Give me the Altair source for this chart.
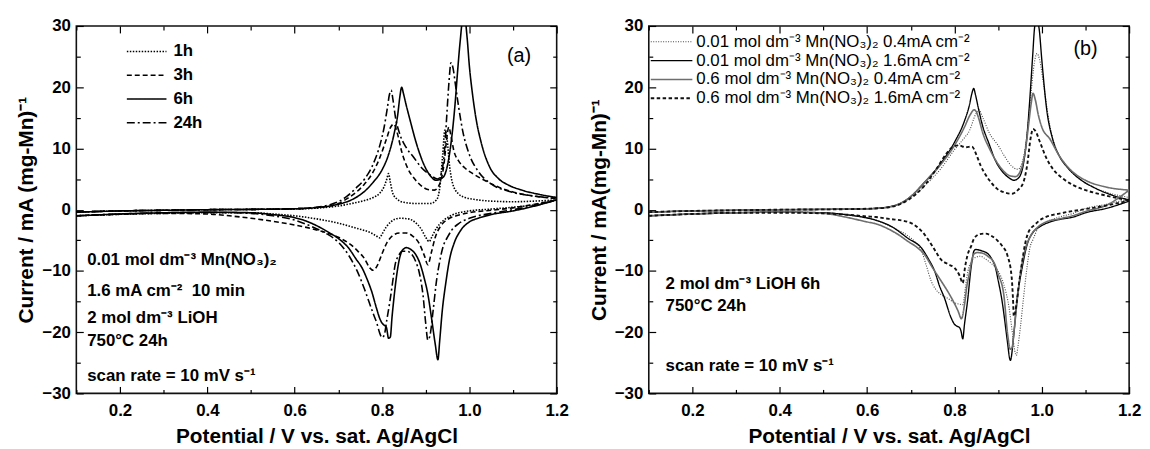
import altair as alt
import pandas as pd

FONT = "Liberation Sans"

# ---------------- axes ----------------
X_DOMAIN = [0.1, 1.2]
Y_DOMAIN = [-30, 30]
X_MAJOR = [0.2, 0.4, 0.6, 0.8, 1.0, 1.2]
X_MINOR = [0.1, 0.3, 0.5, 0.7, 0.9, 1.1]
Y_MAJOR = [-30, -20, -10, 0, 10, 20, 30]
Y_MINOR = [-25, -15, -5, 5, 15, 25]
X_TITLE = "Potential / V vs. sat. Ag/AgCl"
Y_TITLE_A = "Current / mA (mg-Mn)⁻¹"
Y_TITLE_B = "Current / mA(mg-Mn)⁻¹"

# ---------------- panel (a) ----------------
SERIES_A = ["1h", "3h", "6h", "24h"]

# 1h  (anodic sweep 0.1 -> 1.2, cathodic sweep 1.2 -> 0.1)
A1_AV = [0.10, 0.20, 0.30, 0.40, 0.50, 0.60, 0.65, 0.70, 0.73, 0.76, 0.78, 0.795, 0.805, 0.811, 0.815, 0.819,
         0.825, 0.835, 0.85, 0.88, 0.91, 0.925, 0.933, 0.939, 0.944, 0.949, 0.955, 0.962, 0.975, 0.99, 1.01,
         1.05, 1.10, 1.15, 1.20]
A1_AI = [-0.4, -0.2, -0.1, 0.0, 0.05, 0.1, 0.25, 0.6, 1.0, 1.5, 2.0, 2.7, 3.8, 5.0, 5.9, 4.5,
         2.6, 1.7, 1.2, 1.0, 1.0, 1.6, 4.0, 9.0, 13.0, 11.5, 7.0, 4.2, 2.6, 2.0, 1.7,
         1.4, 1.3, 1.4, 1.6]
A1_CV = [1.20, 1.15, 1.10, 1.05, 1.00, 0.96, 0.94, 0.925, 0.915, 0.908, 0.90, 0.89, 0.875, 0.86, 0.84, 0.82,
         0.81, 0.80, 0.795, 0.787, 0.775, 0.76, 0.74, 0.70, 0.65, 0.60, 0.55, 0.50, 0.40, 0.30, 0.20, 0.10]
A1_CI = [1.6, 0.8, 0.4, 0.1, -0.2, -0.9, -1.8, -3.0, -4.3, -5.2, -4.5, -3.2, -2.0, -1.5, -1.4, -2.0,
         -2.8, -4.0, -4.6, -4.3, -3.8, -3.4, -3.0, -2.2, -1.5, -1.0, -0.7, -0.5, -0.5, -0.6, -0.75, -1.0]

# 3h
A3_AV = [0.10, 0.20, 0.30, 0.40, 0.50, 0.60, 0.65, 0.68, 0.70, 0.72, 0.74, 0.76, 0.78, 0.795, 0.81, 0.82,
         0.827, 0.835, 0.845, 0.86, 0.875, 0.89, 0.905, 0.92, 0.932, 0.942, 0.948, 0.953, 0.958, 0.965,
         0.975, 0.99, 1.01, 1.04, 1.07, 1.10, 1.15, 1.20]
A3_AI = [-0.4, -0.2, -0.1, 0.0, 0.05, 0.15, 0.35, 0.6, 1.0, 1.8, 2.8, 4.2, 6.2, 8.5, 11.5, 13.5,
         14.0, 12.5, 9.5, 6.6, 5.0, 3.9, 3.3, 3.2, 4.2, 7.5, 11.5, 13.5, 12.0, 9.5,
         8.0, 6.8, 5.8, 4.6, 3.6, 2.9, 2.2, 1.8]
A3_CV = [1.20, 1.15, 1.10, 1.05, 1.00, 0.97, 0.95, 0.935, 0.922, 0.913, 0.905, 0.897, 0.885, 0.87, 0.855,
         0.84, 0.825, 0.812, 0.80, 0.79, 0.78, 0.772, 0.76, 0.745, 0.73, 0.70, 0.65, 0.60, 0.55, 0.50,
         0.45, 0.40, 0.30, 0.20, 0.10]
A3_CI = [1.6, 0.9, 0.3, -0.1, -0.5, -1.0, -1.6, -2.6, -4.5, -7.0, -9.0, -7.5, -5.5, -4.3, -3.8,
         -3.8, -4.2, -5.3, -7.2, -9.0, -9.9, -9.5, -8.0, -6.8, -5.8, -4.5, -3.3, -2.5, -1.9, -1.4,
         -1.0, -0.7, -0.6, -0.75, -1.0]

# 6h
A6_AV = [0.10, 0.20, 0.30, 0.40, 0.50, 0.60, 0.65, 0.68, 0.70, 0.73, 0.76, 0.78, 0.80, 0.815, 0.828, 0.836,
         0.841, 0.845, 0.849, 0.855, 0.864, 0.878, 0.894, 0.91, 0.924, 0.94, 0.952, 0.96, 0.967, 0.973,
         0.979, 0.985, 0.99, 0.995, 1.00, 1.007, 1.015, 1.027, 1.045, 1.068, 1.09, 1.12, 1.16, 1.20]
A6_AI = [-0.4, -0.2, -0.1, 0.0, 0.05, 0.15, 0.35, 0.6, 0.9, 1.6, 3.0, 4.5, 6.5, 9.0, 12.5, 15.5,
         18.5, 20.0, 19.0, 17.2, 14.7, 11.0, 7.7, 5.6, 4.8, 5.3, 8.0, 12.0, 17.0, 22.5,
         27.5, 31.0, 31.0, 28.0, 23.5, 19.0, 15.0, 11.0, 7.2, 5.0, 4.0, 3.2, 2.5, 2.0]
A6_CV = [1.20, 1.15, 1.10, 1.05, 1.02, 1.00, 0.98, 0.965, 0.955, 0.946, 0.938, 0.932, 0.928, 0.922, 0.913,
         0.905, 0.896, 0.887, 0.877, 0.866, 0.856, 0.847, 0.84, 0.834, 0.828, 0.823, 0.819, 0.815, 0.81,
         0.804, 0.80, 0.795, 0.787, 0.777, 0.765, 0.755, 0.74, 0.725, 0.70, 0.68, 0.65, 0.62, 0.60, 0.55,
         0.50, 0.40, 0.30, 0.20, 0.10]
A6_CI = [1.6, 0.6, -0.2, -0.8, -1.4, -2.0, -3.4, -5.5, -8.0, -12.0, -16.5, -21.5, -24.5, -22.0, -17.5,
         -13.8, -11.0, -8.8, -7.3, -6.5, -6.2, -6.6, -8.0, -10.5, -14.0, -17.5, -20.8, -21.0, -19.2,
         -18.8, -18.5, -17.8, -16.0, -13.5, -11.2, -9.6, -8.0, -6.4, -4.7, -3.8, -2.6, -1.7, -1.3, -0.8,
         -0.5, -0.4, -0.5, -0.7, -1.0]

# 24h
A24_AV = [0.10, 0.20, 0.30, 0.40, 0.50, 0.60, 0.65, 0.68, 0.70, 0.72, 0.74, 0.76, 0.78, 0.795, 0.805, 0.812,
          0.817, 0.821, 0.825, 0.831, 0.84, 0.855, 0.872, 0.89, 0.91, 0.928, 0.936, 0.943, 0.948, 0.953,
          0.958, 0.963, 0.968, 0.975, 0.985, 1.0, 1.02, 1.05, 1.09, 1.14, 1.20]
A24_AI = [-0.4, -0.2, -0.1, 0.0, 0.05, 0.15, 0.4, 0.8, 1.3, 2.2, 3.5, 5.0, 7.5, 10.5, 13.5, 16.5,
          18.8, 19.5, 18.0, 15.0, 12.5, 10.2, 8.6, 6.9, 5.7, 5.0, 6.0, 9.5, 15.0, 20.5,
          24.0, 23.0, 20.5, 17.0, 12.8, 9.0, 6.3, 4.2, 3.0, 2.3, 1.9]
A24_CV = [1.20, 1.15, 1.10, 1.05, 1.00, 0.975, 0.96, 0.95, 0.94, 0.932, 0.925, 0.917, 0.91, 0.905, 0.90,
          0.894, 0.886, 0.878, 0.867, 0.857, 0.846, 0.838, 0.83, 0.824, 0.818, 0.811, 0.805, 0.80, 0.795,
          0.788, 0.78, 0.77, 0.76, 0.743, 0.725, 0.70, 0.675, 0.65, 0.62, 0.60, 0.55, 0.50, 0.40, 0.30,
          0.20, 0.10]
A24_CI = [1.6, 0.7, 0.0, -0.6, -1.4, -2.3, -3.3, -4.5, -6.0, -8.5, -11.5, -16.5, -20.5, -21.3, -18.5,
          -14.0, -10.5, -8.6, -7.2, -6.8, -6.8, -7.5, -9.0, -12.0, -15.0, -18.0, -20.5, -20.9, -20.2,
          -18.5, -17.0, -15.0, -13.0, -10.0, -7.6, -5.3, -4.0, -3.1, -2.2, -1.7, -1.0, -0.6, -0.45, -0.5,
          -0.7, -1.0]

# ---------------- panel (b) ----------------
SERIES_B = [
    "0.01 mol dm⁻³ Mn(NO₃)₂ 0.4mA cm⁻²",
    "0.01 mol dm⁻³ Mn(NO₃)₂ 1.6mA cm⁻²",
    "0.6 mol dm⁻³ Mn(NO₃)₂ 0.4mA cm⁻²",
    "0.6 mol dm⁻³ Mn(NO₃)₂ 1.6mA cm⁻²",
]

B1_AV = [0.10, 0.20, 0.30, 0.40, 0.50, 0.60, 0.65, 0.69, 0.73, 0.77, 0.80, 0.82, 0.835, 0.848, 0.856, 0.865,
         0.88, 0.90, 0.915, 0.93, 0.945, 0.958, 0.968, 0.976, 0.983, 0.989, 0.995, 1.003, 1.012, 1.022,
         1.035, 1.05, 1.07, 1.09, 1.12, 1.15, 1.20]
B1_AI = [-0.4, -0.2, -0.1, 0.0, 0.05, 0.15, 0.45, 1.5, 3.8, 6.8, 9.8, 11.5, 13.0, 15.5, 16.3, 15.0,
         12.5, 10.5, 8.7, 7.2, 6.6, 8.5, 13.5, 19.5, 24.0, 25.5, 24.5, 21.0, 16.5, 12.5,
         9.5, 7.8, 6.0, 4.8, 3.6, 2.8, 2.0]
B1_CV = [1.20, 1.15, 1.10, 1.072, 1.04, 1.011, 0.99, 0.981, 0.972, 0.966, 0.958, 0.951, 0.945, 0.942, 0.938,
         0.933, 0.925, 0.913, 0.90, 0.883, 0.87, 0.86, 0.848, 0.838, 0.831, 0.826, 0.822, 0.819, 0.81, 0.80,
         0.785, 0.77, 0.757, 0.747, 0.735, 0.725, 0.71, 0.694, 0.67, 0.65, 0.62, 0.60, 0.55, 0.50, 0.40,
         0.30, 0.20, 0.10]
B1_CI = [1.8, 0.9, 0.2, -0.6, -1.2, -2.0, -3.2, -4.7, -6.5, -9.5, -14.5, -19.2, -22.5, -23.8, -23.0,
         -20.3, -16.0, -12.2, -10.0, -8.7, -8.0, -7.6, -7.8, -8.5, -10.0, -12.2, -14.5, -15.5, -15.4, -15.2,
         -14.5, -13.9, -13.0, -11.7, -9.0, -6.8, -5.3, -4.3, -3.3, -2.6, -1.7, -1.3, -0.8, -0.5, -0.4,
         -0.5, -0.7, -1.0]

B2_AV = [0.10, 0.20, 0.30, 0.40, 0.50, 0.60, 0.65, 0.694, 0.732, 0.77, 0.80, 0.823, 0.834, 0.84, 0.844,
         0.848, 0.855, 0.864, 0.879, 0.894, 0.91, 0.925, 0.936, 0.947, 0.958, 0.966, 0.973, 0.979, 0.984,
         0.989, 0.994, 1.0, 1.011, 1.025, 1.04, 1.06, 1.087, 1.12, 1.16, 1.20]
B2_AI = [-0.4, -0.2, -0.1, 0.0, 0.05, 0.15, 0.45, 1.8, 4.5, 7.7, 11.0, 14.5, 17.0, 19.0, 19.8,
         18.8, 16.5, 13.8, 10.8, 8.0, 6.2, 5.2, 4.8, 5.2, 7.5, 12.0, 18.5, 25.0, 30.0,
         31.0, 29.5, 24.5, 16.5, 11.5, 8.8, 6.8, 5.0, 3.6, 2.4, 1.6]
B2_CV = [1.20, 1.147, 1.10, 1.072, 1.04, 1.019, 0.995, 0.981, 0.966, 0.955, 0.943, 0.936, 0.928, 0.921,
         0.915, 0.909, 0.90, 0.894, 0.885, 0.875, 0.866, 0.857, 0.849, 0.845, 0.838, 0.83, 0.823, 0.819,
         0.815, 0.811, 0.805, 0.80, 0.792, 0.777, 0.766, 0.755, 0.74, 0.725, 0.694, 0.657, 0.619, 0.58,
         0.55, 0.50, 0.40, 0.30, 0.20, 0.10]
B2_CI = [1.4, 0.2, -0.5, -1.2, -1.6, -2.0, -2.8, -3.6, -5.8, -9.5, -14.9, -20.3, -24.6, -21.4,
         -18.0, -14.9, -11.5, -9.5, -8.0, -7.1, -6.8, -6.6, -6.5, -6.7, -9.5, -14.9, -18.7, -21.1,
         -19.8, -19.2, -19.0, -18.7, -17.6, -14.4, -12.5, -10.1, -8.0, -6.3, -4.7, -2.8, -1.7, -1.1,
         -0.8, -0.5, -0.4, -0.5, -0.7, -1.0]

B3_AV = [0.10, 0.20, 0.30, 0.40, 0.50, 0.60, 0.65, 0.694, 0.732, 0.77, 0.80, 0.823, 0.836, 0.845, 0.85,
         0.856, 0.865, 0.88, 0.895, 0.91, 0.925, 0.94, 0.952, 0.962, 0.97, 0.976, 0.98, 0.985, 0.992, 1.0,
         1.019, 1.04, 1.072, 1.10, 1.147, 1.20]
B3_AI = [-0.4, -0.2, -0.1, 0.0, 0.05, 0.15, 0.45, 1.8, 4.5, 7.5, 10.5, 13.5, 15.5, 16.3, 16.0,
         14.8, 12.5, 10.0, 8.0, 6.5, 5.6, 5.4, 6.5, 9.5, 14.0, 17.5, 19.0, 18.0, 15.5, 13.5,
         11.5, 8.8, 6.1, 4.8, 3.7, 3.2]
B3_CV = [1.20, 1.15, 1.10, 1.07, 1.04, 1.01, 0.99, 0.975, 0.962, 0.952, 0.944, 0.937, 0.932, 0.928, 0.922,
         0.913, 0.90, 0.891, 0.878, 0.864, 0.853, 0.845, 0.839, 0.834, 0.829, 0.823, 0.816, 0.808, 0.79,
         0.77, 0.75, 0.732, 0.715, 0.694, 0.67, 0.65, 0.62, 0.60, 0.55, 0.50, 0.40, 0.30, 0.20, 0.10]
B3_CI = [3.2, 0.8, -0.3, -1.0, -1.5, -2.0, -2.9, -4.2, -6.5, -10.0, -14.5, -19.5, -22.5, -22.8, -20.5,
         -13.9, -10.5, -8.7, -7.7, -7.1, -7.0, -7.2, -8.5, -10.5, -12.2, -15.5, -17.8, -16.5, -14.0,
         -11.7, -9.5, -7.4, -6.2, -5.2, -4.0, -3.2, -2.3, -2.0, -1.2, -0.6, -0.4, -0.5, -0.7, -1.0]

B4_AV = [0.10, 0.20, 0.30, 0.40, 0.50, 0.60, 0.65, 0.694, 0.732, 0.76, 0.78, 0.795, 0.81, 0.825, 0.84,
         0.85, 0.86, 0.868, 0.88, 0.898, 0.915, 0.932, 0.945, 0.958, 0.967, 0.974, 0.98, 0.986, 0.996,
         1.01, 1.026, 1.05, 1.072, 1.10, 1.147, 1.20]
B4_AI = [-0.4, -0.2, -0.1, 0.0, 0.05, 0.15, 0.4, 1.6, 4.0, 6.8, 9.0, 10.2, 10.5, 10.2, 10.3,
         9.0, 7.2, 6.1, 4.8, 3.4, 2.8, 2.6, 3.2, 4.5, 7.5, 11.5, 13.2, 12.8, 11.0,
         8.5, 6.6, 5.0, 4.0, 3.2, 2.3, 1.5]
B4_CV = [1.20, 1.15, 1.10, 1.05, 1.00, 0.985, 0.97, 0.962, 0.955, 0.948, 0.943, 0.939, 0.936, 0.934, 0.931,
         0.921, 0.91, 0.898, 0.885, 0.872, 0.858, 0.845, 0.838, 0.83, 0.824, 0.819, 0.812, 0.80, 0.785,
         0.77, 0.75, 0.732, 0.694, 0.65, 0.62, 0.60, 0.55, 0.50, 0.40, 0.30, 0.20, 0.10]
B4_CI = [1.5, 0.7, 0.1, -0.5, -1.5, -2.4, -3.6, -5.5, -8.5, -12.0, -14.9, -16.8, -17.4, -14.5, -11.0,
         -7.4, -6.0, -5.0, -4.3, -3.9, -4.0, -4.7, -6.0, -7.4, -9.5, -12.0, -10.8, -9.5, -8.9,
         -8.2, -6.0, -4.1, -2.0, -1.5, -1.2, -1.1, -0.8, -0.6, -0.5, -0.5, -0.7, -1.0]

# ---------------- annotation texts ----------------
NOTES_A = ["0.01 mol dm⁻³ Mn(NO₃)₂", "1.6 mA cm⁻²\u00a0\u00a010 min", "2 mol dm⁻³ LiOH",
           "750°C 24h", "scan rate = 10 mV s⁻¹"]
NOTES_B = ["2 mol dm⁻³ LiOH 6h", "750°C 24h", "scan rate = 10 mV s⁻¹"]
LETTER_A = "(a)"
LETTER_B = "(b)"

# ---------------- layout constants (pixels, relative to plot area) ----------------
W, H = 485, 371
NOTES_A_X, NOTES_A_Y = 11, [236, 268, 295, 318, 353]
NOTES_B_X, NOTES_B_Y = 17, [261, 283, 343]


def build(series_data):
    rows = []
    for name, av, ai, cv, ci in series_data:
        assert len(av) == len(ai), name
        assert len(cv) == len(ci), name
        for v, i in zip(av, ai):
            rows.append({"series": name, "branch": name + "|a", "V": v, "I": i})
        for v, i in zip(cv, ci):
            rows.append({"series": name, "branch": name + "|c", "V": v, "I": i})
    return pd.DataFrame(rows)


df_a = build([
    (SERIES_A[0], A1_AV, A1_AI, A1_CV, A1_CI),
    (SERIES_A[1], A3_AV, A3_AI, A3_CV, A3_CI),
    (SERIES_A[2], A6_AV, A6_AI, A6_CV, A6_CI),
    (SERIES_A[3], A24_AV, A24_AI, A24_CV, A24_CI),
])
df_b = build([
    (SERIES_B[0], B1_AV, B1_AI, B1_CV, B1_CI),
    (SERIES_B[1], B2_AV, B2_AI, B2_CV, B2_CI),
    (SERIES_B[2], B3_AV, B3_AI, B3_CV, B3_CI),
    (SERIES_B[3], B4_AV, B4_AI, B4_CV, B4_CI),
])

X_SCALE = alt.Scale(domain=X_DOMAIN, nice=False, zero=False)
Y_SCALE = alt.Scale(domain=Y_DOMAIN, nice=False, zero=False)
TICK_MAJOR = alt.ExprRef(expr="-7")
TICK_MINOR = alt.ExprRef(expr="-4")


def tick_axis(orient, values, size):
    return alt.Axis(orient=orient, values=values, labels=False, title=None, tickSize=size,
                    domain=False, grid=False, tickColor="black", tickWidth=1.2)


def frame_layers(df):
    layers = []
    for xo, yo, xv, yv, size in [
        ("bottom", "left", X_MINOR, Y_MINOR, TICK_MINOR),
        ("top", "right", X_MAJOR, Y_MAJOR, TICK_MAJOR),
        ("top", "right", X_MINOR, Y_MINOR, TICK_MINOR),
    ]:
        layers.append(
            alt.Chart(df).mark_point(opacity=0).encode(
                x=alt.X("V:Q", scale=X_SCALE, axis=tick_axis(xo, xv, size)),
                y=alt.Y("I:Q", scale=Y_SCALE, axis=tick_axis(yo, yv, size)),
            )
        )
    return layers


def text_layer(txt, x, y, size, weight, align="left"):
    return alt.Chart(pd.DataFrame({"t": [txt]})).mark_text(
        align=align, baseline="middle", font=FONT, fontSize=size, fontWeight=weight, color="black"
    ).encode(x=alt.value(x), y=alt.value(y), text="t:N")


def main_axes(ytitle):
    xa = alt.Axis(orient="bottom", values=X_MAJOR, format=".1f", title=X_TITLE, tickSize=TICK_MAJOR,
                  labelPadding=16, titlePadding=8, domain=False, grid=False, tickColor="black",
                  tickWidth=1.2, labelFlush=False)
    ya = alt.Axis(orient="left", values=Y_MAJOR, format="d", title=ytitle, tickSize=TICK_MAJOR,
                  labelPadding=13, titlePadding=5, domain=False, grid=False, tickColor="black",
                  tickWidth=1.2, labelFlush=False)
    return xa, ya


# ---------------- panel (a) chart ----------------
xa, ya = main_axes(Y_TITLE_A)
legend_a = alt.Legend(title=None, orient="none", legendX=50, legendY=14, symbolType="stroke",
                      symbolSize=1600, symbolStrokeWidth=1.6, symbolStrokeColor="black",
                      labelFont=FONT, labelFontSize=17, labelFontWeight="bold", labelColor="black",
                      labelOffset=6, rowPadding=0, clipHeight=23.5, padding=0)
lines_a = alt.Chart(df_a).mark_line(clip=True, interpolate="monotone", color="black", strokeWidth=1.6).encode(
    x=alt.X("V:Q", scale=X_SCALE, axis=xa),
    y=alt.Y("I:Q", scale=Y_SCALE, axis=ya),
    strokeDash=alt.StrokeDash("series:N", scale=alt.Scale(domain=SERIES_A,
                              range=[[1.5, 1.5], [5, 3], [1, 0], [8, 3, 2, 3]]), legend=legend_a),
    detail="branch:N",
)
texts_a = [text_layer(t, NOTES_A_X, y, 17, "bold") for t, y in zip(NOTES_A, NOTES_A_Y)]
texts_a.append(text_layer(LETTER_A, 447, 30, 20, "normal", "center"))
panel_a = alt.layer(lines_a, *frame_layers(df_a), *texts_a).resolve_axis(
    x="independent", y="independent").properties(width=W, height=H)

# ---------------- panel (b) chart ----------------
xb, yb = main_axes(Y_TITLE_B)
legend_b = alt.Legend(title=None, orient="none", legendX=1, legendY=6.5, symbolType="stroke",
                      symbolSize=1764, labelFont=FONT, labelFontSize=17, labelFontWeight="normal",
                      labelColor="black", labelOffset=3, rowPadding=0, clipHeight=19, padding=0,
                      labelLimit=500)
lines_b = alt.Chart(df_b).mark_line(clip=True, interpolate="monotone").encode(
    x=alt.X("V:Q", scale=X_SCALE, axis=xb),
    y=alt.Y("I:Q", scale=Y_SCALE, axis=yb),
    strokeDash=alt.StrokeDash("series:N", scale=alt.Scale(domain=SERIES_B,
                              range=[[1, 1.5], [1, 0], [1, 0], [3.5, 2.5]]), legend=legend_b),
    color=alt.Color("series:N", scale=alt.Scale(domain=SERIES_B,
                    range=["#444444", "#000000", "#6e6e6e", "#111111"]), legend=legend_b),
    strokeWidth=alt.StrokeWidth("series:N", scale=alt.Scale(domain=SERIES_B,
                                range=[1.1, 1.9, 1.2, 1.4]), legend=legend_b),
    detail="branch:N",
)
texts_b = [text_layer(t, NOTES_B_X, y, 17, "bold") for t, y in zip(NOTES_B, NOTES_B_Y)]
texts_b.append(text_layer(LETTER_B, 441, 23, 20, "normal", "center"))
panel_b = alt.layer(lines_b, *frame_layers(df_b), *texts_b).resolve_axis(
    x="independent", y="independent").properties(width=W, height=H)

chart = alt.hconcat(panel_a, panel_b, spacing=93, bounds="flush").resolve_scale(
    strokeDash="independent", color="independent", strokeWidth="independent"
).resolve_legend(
    strokeDash="independent", color="independent", strokeWidth="independent"
).properties(
    padding={"left": 7, "top": 6, "right": 0, "bottom": 0}
).configure_axis(
    labelFont=FONT, labelFontSize=17, labelFontWeight="bold", labelColor="black",
    titleFont=FONT, titleFontSize=21, titleFontWeight="bold", titleColor="black",
).configure_view(stroke="#111111", strokeWidth=1.6)

chart.save("out.html", embed_options={"renderer": "svg", "actions": False})
